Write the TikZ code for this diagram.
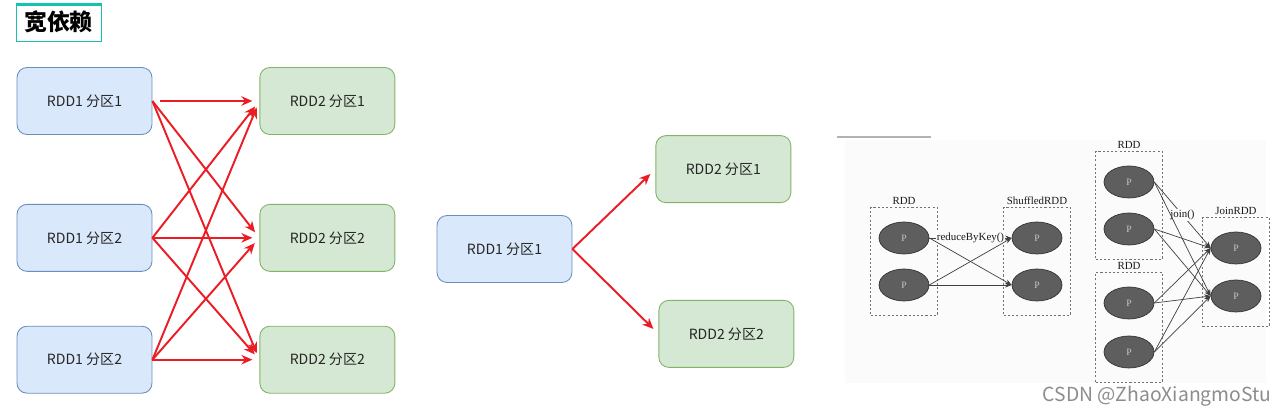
\documentclass[tikz,border=0pt]{standalone}
\usepackage{fontspec}
\setmainfont{Noto Sans CJK SC}
\newfontfamily\livro{Liberation Serif}
\usetikzlibrary{arrows.meta,positioning,shapes.geometric,fit}
\definecolor{azulfundo}{HTML}{DAE8FC}
\definecolor{azulborda}{HTML}{6C8EBF}
\definecolor{verdefundo}{HTML}{D5E8D4}
\definecolor{verdeborda}{HTML}{82B366}
\definecolor{vermelho}{RGB}{236,28,36}
\definecolor{turquesa}{RGB}{20,195,175}

\begin{document}
\begin{tikzpicture}[
    x=0.02cm, y=-0.02cm,
    every node/.style={font=\fontsize{8}{10}\selectfont,text=black!85,align=center},
    parent/.style={draw=azulborda,fill=azulfundo,rounded corners=2mm,
      minimum width=27mm,minimum height=13.4mm,line width=0.5pt},
    child/.style={parent,draw=verdeborda,fill=verdefundo},
    wide/.style={-{Stealth[length=2.2mm,width=1.9mm]},draw=vermelho,line width=1.1pt,
      shorten >=1.4mm},
    oval/.style={ellipse,draw=black!80,fill=black!63,minimum width=10mm,
      minimum height=6.4mm,inner sep=0pt,text=white!78!black,
      font=\livro\fontsize{5.5}{6}\selectfont},
    group/.style={draw=black!55,dash pattern=on 1.2pt off 1.2pt,
      inner xsep=1.6mm,inner ysep=2.8mm,line width=0.5pt},
    tag/.style={font=\livro\fontsize{6.2}{7}\selectfont,text=black!90,inner sep=0.5pt},
    fino/.style={-{Stealth[length=1.3mm,width=1mm]},black!75,line width=0.4pt}
  ]
    \useasboundingbox (0,0) rectangle (1286,418);

    % title
    \node[draw=turquesa,line width=0.5pt,minimum width=17mm,minimum height=7.6mm,
      font=\bfseries\fontsize{13}{14}\selectfont,text=black] (titulo) at (58.5,22) {宽依赖};
    \draw[turquesa,line width=0.7mm] ([yshift=-0.35mm]titulo.north west)
      -- ([yshift=-0.35mm]titulo.north east);

    % wide dependency
    \node[parent] (a1) at (84.5,101) {RDD1 分区1};
    \node[parent,below=13.8mm of a1] (a2) {RDD1 分区2};
    \node[parent,below=10.8mm of a2] (a3) {RDD1 分区2};
    \node[child,right=21.4mm of a1] (b1) {RDD2 分区1};
    \node[child,right=21.4mm of a2] (b2) {RDD2 分区2};
    \node[child,right=21.4mm of a3] (b3) {RDD2 分区2};

    \draw[wide] (a1.east) -- (b2.west);
    \draw[wide] (a1.east) -- (b3.west);
    \draw[wide] (a2.east) -- (b1.west);
    \draw[wide] (a2.east) -- (b2.west);
    \draw[wide] (a2.east) -- (b3.west);
    \draw[wide] (a3.east) -- (b1.west);
    \draw[wide] (a3.east) -- (b2.west);
    \draw[wide] (a3.east) -- (b3.west);
    \draw[wide,shorten <=1.6mm] (a1.east) -- (b1.west);

    % one to many
    \node[parent] (m1) at (504.5,249) {RDD1 分区1};
    \node[child,above right=2.4mm and 16.6mm of m1] (m2) {RDD2 分区1};
    \node[child,below right=3.4mm and 17.2mm of m1] (m3) {RDD2 分区2};

    \draw[wide] (m1.east) -- (m2.west);
    \draw[wide] (m1.east) -- (m3.west);

    % book figure
    \draw[black!30,line width=0.4mm] (837,137) -- (931,137);
    \fill[black!1.5] (845,140) rectangle (1266,383);

    \node[oval] (r1) at (904,238) {P};
    \node[oval] (r2) at (904,285) {P};
    \node[oval] (s1) at (1037,238) {P};
    \node[oval] (s2) at (1037,285) {P};
    \node[group,fit=(r1)(r2)] (rdd) {};
    \node[group,fit=(s1)(s2)] (shuf) {};
    \node[tag,above=0.3mm of rdd] (rddnome) {RDD};
    \node[tag,above=0.3mm of shuf] (shufnome) {ShuffledRDD};

    \draw[fino] (r1.east) -- node[tag,fill=black!1.5] (rbk) {reduceByKey()} (s1.west);
    \draw[fino] (r1.east) -- (s2.west);
    \draw[fino] (r2.east) -- (s1.west);
    \draw[fino] (r2.east) -- (s2.west);

    \node[oval] (u1) at (1129,182) {P};
    \node[oval] (u2) at (1129,229) {P};
    \node[oval] (v1) at (1129,303) {P};
    \node[oval] (v2) at (1129,352) {P};
    \node[oval] (j1) at (1236,248) {P};
    \node[oval] (j2) at (1236,296) {P};
    \node[group,fit=(u1)(u2)] (rddcima) {};
    \node[group,fit=(v1)(v2)] (rddbaixo) {};
    \node[group,fit=(j1)(j2)] (join) {};
    \node[tag,above=0.3mm of rddcima] (cimanome) {RDD};
    \node[tag,above=0.3mm of rddbaixo] (baixonome) {RDD};
    \node[tag,above=0.3mm of join] (joinnome) {JoinRDD};

    \draw[fino] (u1.east) -- node[tag,fill=black!1.5] (jn) {join()} (j1.west);
    \draw[fino] (u1.east) -- (j2.west);
    \draw[fino] (u2.east) -- (j1.west);
    \draw[fino] (u2.east) -- (j2.west);
    \draw[fino] (v1.east) -- (j1.west);
    \draw[fino] (v1.east) -- (j2.west);
    \draw[fino] (v2.east) -- (j1.west);
    \draw[fino] (v2.east) -- (j2.west);

    \node[font=\fontsize{11}{11}\selectfont,text=black!45] (marca) at (1157,396)
      {CSDN @ZhaoXiangmoStu};
\end{tikzpicture}
\end{document}
